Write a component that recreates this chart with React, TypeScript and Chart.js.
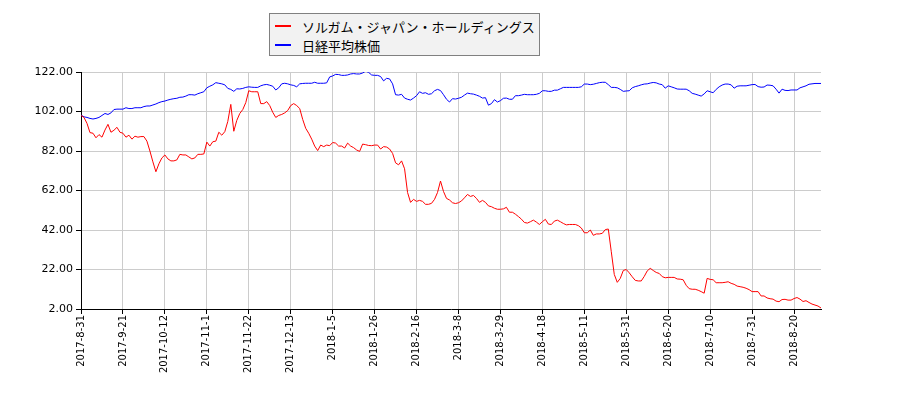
import { useEffect, useRef } from "react";
import { Chart, registerables } from "chart.js";

Chart.register(...registerables);

// tick labels along the x axis (one every 14 trading days)
const tickLabels = [
  "2017-8-31", "2017-9-21", "2017-10-12", "2017-11-1", "2017-11-22", "2017-12-13",
  "2018-1-5", "2018-1-26", "2018-2-16", "2018-3-8", "2018-3-29", "2018-4-18",
  "2018-5-11", "2018-5-31", "2018-6-20", "2018-7-10", "2018-7-31", "2018-8-20",
];
const tickStep = 14;
const yTicks = [2, 22, 42, 62, 82, 102, 122];

const seriesNames = ["ソルガム・ジャパン・ホールディングス", "日経平均株価"];
const seriesColors = ["#ff0000", "#0000ff"];

// ソルガム・ジャパン・ホールディングス (indexed)
const stockValues = [
  100, 99, 96, 91.3, 91, 88.7, 90.3, 89, 92.6, 95.5, 91.5, 92.5, 94, 91.5,
  91, 89, 90, 88, 89.5, 89, 89.3, 89.3, 87, 82, 76.5, 71.5, 75.5, 78.5,
  80, 78, 77, 77, 77.5, 80.3, 80, 80, 79, 78, 78.5, 80.3, 80.3, 80.5,
  86.5, 84.5, 86.7, 87, 91.5, 90, 91.8, 97, 105.6, 92, 97.5, 101, 103, 106.5,
  112.5, 112, 112, 112, 106, 106, 107, 105, 101.6, 99, 100, 100.5, 101.3, 102.5,
  105, 106, 105, 103.5, 98, 93.5, 91, 88, 84.5, 82.2, 85, 84.2, 85, 84.7,
  86.3, 86, 84.5, 84.5, 83.5, 86, 84.5, 83.7, 82.5, 81.8, 85.5, 85.2, 84.8, 84.7,
  85, 85, 83, 84.2, 84, 83, 80.8, 76, 75, 77, 73, 61, 56, 57.5,
  56.5, 57, 56.5, 55, 55, 55.5, 57.5, 61, 66.8, 61.5, 58, 57.2, 55.8, 55.4,
  55.8, 56.7, 58.3, 60, 59, 59.5, 58, 56, 57, 56, 54.2, 53.8, 53, 52.5,
  52.5, 52.7, 53.5, 51, 51, 50, 48.8, 47.5, 45.8, 45.5, 46.2, 47, 46, 44.8,
  46.2, 47.4, 45, 44.8, 46.5, 47, 46.2, 45.3, 44.6, 44.8, 44.8, 44.8, 44.2, 43,
  40.6, 40.6, 42, 39.3, 40, 40, 40.3, 42.2, 42.5, 31, 19.5, 15.5, 17.5, 21.5,
  22, 20.3, 18.3, 16.5, 16.2, 16.2, 18.5, 21.3, 22.6, 21.5, 20.5, 20, 18.4, 17.8,
  18, 18, 18, 17.2, 17.1, 16.8, 14, 12.3, 12, 12, 11.5, 10.8, 10, 17.5,
  17, 16.8, 15.3, 15.3, 15.3, 15.5, 15.8, 15, 14.5, 13.6, 13.3, 13, 12.5, 11.8,
  10.8, 10.8, 10.8, 8.6, 8.6, 7.6, 7.2, 7, 6, 5.7, 6.8, 6.9, 6.5, 6.5,
  7.3, 7.8, 7, 5.8, 6.2, 5.3, 4.5, 4, 3.5, 2.5,
];

// 日経平均株価 (indexed)
const nikkeiValues = [
  100.2, 99.3, 99, 98.5, 98.2, 98.5, 99, 100, 101, 100.5, 101.3, 103, 103.2, 103.2,
  103.2, 103.9, 103.5, 103.5, 103.9, 103.9, 103.9, 104.5, 104.8, 104.8, 105.3, 105.8, 106.5, 107,
  107.3, 107.8, 108.2, 108.5, 108.7, 109.2, 109.3, 109.8, 110.5, 110.5, 110.3, 111, 111.5, 112,
  114, 114.8, 115.5, 116.6, 116.3, 116, 115.5, 113.7, 113.2, 112.2, 113.5, 113.4, 113.7, 114.2,
  114.5, 114.3, 114.2, 114.2, 115, 115.5, 115.7, 115.3, 114.8, 112.9, 114, 116, 116.3, 116,
  115.5, 115.2, 114.5, 116, 116.2, 116.3, 116.3, 116.3, 116.8, 116.3, 116.3, 116.3, 116.5, 119.5,
  120, 120.8, 120.7, 120.3, 120.3, 120.5, 121, 121.2, 121, 121, 121.5, 122.4, 121.8, 120.5,
  120.3, 120.3, 119.7, 117.5, 118.8, 118.5, 116, 110.5, 110.3, 110.7, 108.8, 108.2, 107.8, 108.8,
  110, 112, 111.2, 111.5, 110.7, 111, 112.5, 113.2, 112.6, 110.5, 108.2, 106.8, 108.5, 108.3,
  108.7, 109.2, 110.3, 111.3, 111, 110.8, 110.3, 109.7, 108.8, 109, 105.2, 106, 108, 106.8,
  107.5, 108.7, 108.8, 108.2, 108.2, 110, 110, 110.3, 110.7, 110.5, 110.5, 110.5, 110.7, 111.2,
  112.5, 112.5, 112.2, 112.2, 112.8, 112.8, 113.5, 114.2, 114.2, 114.2, 114.2, 114.2, 114.2, 114.5,
  115.9, 115.9, 115.6, 115.8, 116.2, 116.6, 116.8, 116.8, 115.6, 114.2, 114.2, 114, 113.2, 112.2,
  112.4, 112.5, 114, 114.6, 115, 115.5, 115.9, 116, 116.4, 116.7, 116.5, 115.9, 115.6, 113.8,
  115, 114.5, 114, 113.4, 113.3, 113.3, 113.3, 112.5, 111.2, 110.8, 110.3, 109.8, 110.9, 112.5,
  112, 111.5, 113.2, 114.5, 115.4, 115.9, 115.9, 115.5, 113.8, 114.8, 115, 115, 115, 115.3,
  115.6, 115.7, 114.6, 114.3, 114.4, 115.4, 115.3, 115, 113.3, 111.3, 113.3, 112.7, 112.6, 112.9,
  112.9, 112.9, 114, 114.5, 115, 115.8, 116, 116.2, 116.2, 116.2,
];

const tickFont = { family: "'DejaVu Sans', sans-serif" };

export default function App() {
  const canvasRef = useRef<HTMLCanvasElement | null>(null);

  useEffect(() => {
    if (!canvasRef.current) return;

    const toPoints = (vals: number[]) => vals.map((v, i) => ({ x: i, y: v }));

    const chart = new Chart(canvasRef.current, {
      type: "line",
      data: {
        datasets: [
          {
            label: seriesNames[0],
            data: toPoints(stockValues),
            borderColor: seriesColors[0],
            borderWidth: 1,
            pointRadius: 0,
            tension: 0,
          },
          {
            label: seriesNames[1],
            data: toPoints(nikkeiValues),
            borderColor: seriesColors[1],
            borderWidth: 1,
            pointRadius: 0,
            tension: 0,
          },
        ],
      },
      options: {
        animation: false,
        responsive: false,
        layout: { padding: { top: 72, right: 79, left: 0, bottom: 0 } },
        plugins: {
          legend: { display: false },
          tooltip: { enabled: false },
        },
        scales: {
          x: {
            type: "linear",
            min: 0,
            max: stockValues.length - 1,
            afterBuildTicks: (scale: any) => {
              scale.ticks = tickLabels.map((_, i) => ({ value: i * tickStep }));
            },
            afterFit: (scale: any) => {
              scale.height = 91;
            },
            ticks: {
              autoSkip: false,
              maxRotation: 90,
              minRotation: 90,
              padding: 1,
              color: "#000",
              font: { ...tickFont, size: 10 },
              callback: (v: any) => tickLabels[Math.round(Number(v) / tickStep)],
            },
            grid: { color: "#cccccc", tickColor: "#000", tickLength: 5 },
            border: { color: "#000" },
          },
          y: {
            min: 2,
            max: 122,
            afterBuildTicks: (scale: any) => {
              scale.ticks = yTicks.map((v) => ({ value: v }));
            },
            afterFit: (scale: any) => {
              scale.width = 81;
            },
            ticks: {
              padding: 3,
              color: "#000",
              font: { ...tickFont, size: 11 },
              callback: (v: any) => Number(v).toFixed(2),
            },
            grid: { color: "#cccccc", tickColor: "#000", tickLength: 5 },
            border: { color: "#000" },
          },
        },
      },
    });

    return () => chart.destroy();
  }, []);

  return (
    <div style={{ position: "fixed", left: 0, top: 0, width: 900, height: 400, background: "#fff" }}>
      <canvas ref={canvasRef} width={900} height={400} />
      <div
        style={{
          position: "absolute",
          left: 269,
          top: 13,
          width: 269,
          height: 41,
          border: "1px solid #808080",
          background: "#f2f2f2",
          fontFamily: "'Noto Sans CJK JP', sans-serif",
          fontSize: 13,
          color: "#000",
        }}
      >
        {seriesNames.map((name, i) => (
          <div
            key={name}
            style={{
              position: "absolute",
              left: 5,
              top: 3 + i * 19,
              height: 18,
              display: "flex",
              alignItems: "center",
              whiteSpace: "nowrap",
            }}
          >
            <span
              style={{
                display: "inline-block",
                width: 16,
                height: 2,
                background: seriesColors[i],
                marginRight: 11,
              }}
            />
            <span>{name}</span>
          </div>
        ))}
      </div>
    </div>
  );
}
